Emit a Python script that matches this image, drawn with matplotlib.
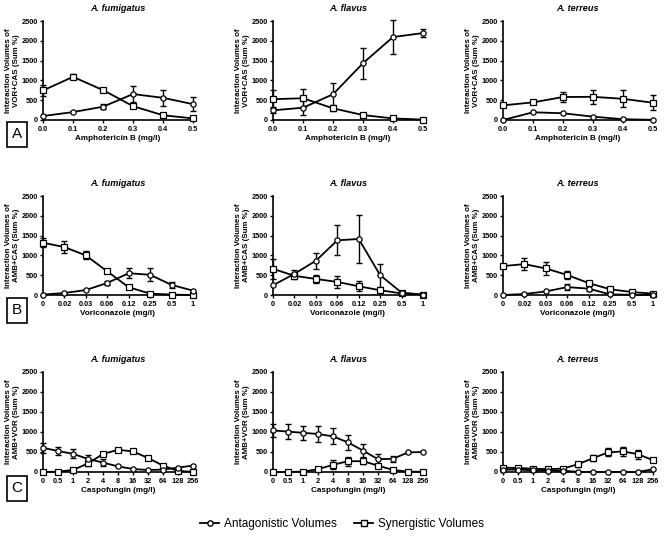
import numpy as np
import matplotlib
matplotlib.use("Agg")
import matplotlib.pyplot as plt
from matplotlib.lines import Line2D
from matplotlib.patches import Rectangle

plt.rcParams['font.family'] = ['Liberation Sans', 'DejaVu Sans']

nan = np.nan

titles = ["A. fumigatus", "A. flavus", "A. terreus"]
row_letters = ["A", "B", "C"]
row_ylabels = ["Interaction Volumes of\nVOR+CAS (Sum %)",
               "Interaction Volumes of\nAMB+CAS (Sum %)",
               "Interaction Volumes of\nAMB+VOR (Sum %)"]
row_xlabels = ["Amphotericin B (mg/l)", "Voriconazole (mg/l)", "Caspofungin (mg/l)"]

amb_conc = [0.0, 0.1, 0.2, 0.3, 0.4, 0.5]
amb_ticks = ["0.0", "0.1", "0.2", "0.3", "0.4", "0.5"]
vor_ticks = ["0", "0.02", "0.03", "0.06", "0.12", "0.25", "0.5", "1"]
cas_ticks = ["0", "0.5", "1", "2", "4", "8", "16", "32", "64", "128", "256"]
y_ticks = [0, 500, 1000, 1500, 2000, 2500]

# Row A: VOR+CAS vs Amphotericin B
A_fum_ant = [100, 200, 335, 655, 560, 400]
A_fum_ant_err = [nan, nan, 60, 200, 210, 170]
A_fum_syn = [745, 1090, 755, 350, 120, 40]
A_fum_syn_err = [130, 60, 30, 40, nan, nan]
A_fla_ant = [245, 310, 650, 1435, 2095, 2195]
A_fla_ant_err = [80, 190, 290, 390, 420, 110]
A_fla_syn = [525, 550, 295, 125, 40, 10]
A_fla_syn_err = [230, 230, 80, nan, nan, nan]
A_ter_ant = [0, 195, 170, 85, 20, 5]
A_ter_ant_err = [nan, nan, nan, nan, nan, nan]
A_ter_syn = [370, 445, 580, 585, 535, 435]
A_ter_syn_err = [nan, nan, 115, 185, 210, 190]

# Row B: AMB+CAS vs Voriconazole
B_fum_ant = [10, 50, 125, 305, 550, 510, 255, 110]
B_fum_ant_err = [nan, nan, nan, 40, 130, 160, 80, nan]
B_fum_syn = [1320, 1210, 1000, 595, 195, 35, 10, 0]
B_fum_syn_err = [120, 160, 100, 30, nan, nan, nan, nan]
B_fla_ant = [245, 535, 865, 1380, 1415, 500, 60, 10]
B_fla_ant_err = [nan, 90, 200, 380, 600, 290, nan, nan]
B_fla_syn = [660, 485, 405, 330, 220, 120, 40, 10]
B_fla_syn_err = [260, 80, 110, 160, 130, 60, nan, nan]
B_ter_ant = [0, 25, 90, 200, 160, 15, 5, 0]
B_ter_ant_err = [nan, nan, nan, 80, 60, nan, nan, nan]
B_ter_syn = [730, 780, 670, 505, 300, 145, 75, 35]
B_ter_syn_err = [nan, 150, 160, 110, 40, nan, nan, nan]

# Row C: AMB+VOR vs Caspofungin
C_fum_ant = [605, 525, 455, 325, 235, 140, 75, 50, 60, 110, 160]
C_fum_ant_err = [130, 110, 110, 100, 90, nan, nan, nan, nan, nan, nan]
C_fum_syn = [0, 10, 50, 215, 450, 555, 515, 350, 160, 25, 5]
C_fum_syn_err = [nan, nan, nan, 70, nan, 30, nan, nan, nan, nan, nan]
C_fla_ant = [1040, 1010, 980, 950, 890, 740, 535, 320, 330, 490, 500]
C_fla_ant_err = [170, 180, 180, 200, 200, 180, 170, 130, 80, nan, nan]
C_fla_syn = [0, 0, 10, 70, 180, 270, 270, 160, 50, 10, 5]
C_fla_syn_err = [nan, nan, nan, nan, 110, 110, 80, 40, nan, nan, nan]
C_ter_ant = [60, 60, 45, 35, 30, 5, 0, 0, 0, 0, 70]
C_ter_ant_err = [nan] * 11
C_ter_syn = [110, 100, 85, 70, 85, 195, 345, 490, 515, 445, 295]
C_ter_syn_err = [nan, nan, nan, nan, nan, 60, 80, 100, 120, 110, 50]

rows = [
    [(A_fum_ant, A_fum_ant_err, A_fum_syn, A_fum_syn_err),
     (A_fla_ant, A_fla_ant_err, A_fla_syn, A_fla_syn_err),
     (A_ter_ant, A_ter_ant_err, A_ter_syn, A_ter_syn_err)],
    [(B_fum_ant, B_fum_ant_err, B_fum_syn, B_fum_syn_err),
     (B_fla_ant, B_fla_ant_err, B_fla_syn, B_fla_syn_err),
     (B_ter_ant, B_ter_ant_err, B_ter_syn, B_ter_syn_err)],
    [(C_fum_ant, C_fum_ant_err, C_fum_syn, C_fum_syn_err),
     (C_fla_ant, C_fla_ant_err, C_fla_syn, C_fla_syn_err),
     (C_ter_ant, C_ter_ant_err, C_ter_syn, C_ter_syn_err)],
]

W, H = 664, 537
fig = plt.figure(figsize=(W / 100, H / 100), dpi=100)

col_left = [43, 273, 503]
ax_w = 150
row_top = [21, 196, 372]
row_bot = [120, 295, 472]


def draw_series(ax, x, y, err, marker):
    e = np.array(err, dtype=float)
    eb = ax.errorbar(x, y, yerr=e, fmt='none', ecolor='black', elinewidth=1.0,
                     capsize=2.3, capthick=1.0, zorder=2)
    for art in eb.lines[1] + eb.lines[2]:
        art.set_clip_on(False)
    ax.plot(x, y, '-', color='black', lw=1.3, marker=marker, ms=3.8,
            mfc='white', mec='black', mew=0.9, zorder=3, clip_on=False)


for r in range(3):
    for c in range(3):
        left = col_left[c] / W
        bottom = 1 - row_bot[r] / H
        height = (row_bot[r] - row_top[r]) / H
        ax = fig.add_axes([left, bottom, ax_w / W, height])
        ant, ant_err, syn, syn_err = rows[r][c]
        if r == 0:
            x = amb_conc
            ax.set_xlim(0, 0.5)
            ax.set_xticks(amb_conc)
            ax.set_xticklabels(amb_ticks)
        elif r == 1:
            x = np.arange(len(vor_ticks))
            ax.set_xlim(0, len(vor_ticks) - 1)
            ax.set_xticks(x)
            ax.set_xticklabels(vor_ticks)
        else:
            x = np.arange(len(cas_ticks))
            ax.set_xlim(0, len(cas_ticks) - 1)
            ax.set_xticks(x)
            ax.set_xticklabels(cas_ticks)
        draw_series(ax, x, syn, syn_err, 's')
        draw_series(ax, x, ant, ant_err, 'o')
        ax.set_ylim(0, 2500)
        ax.set_yticks(y_ticks)
        for s in ['top', 'right']:
            ax.spines[s].set_visible(False)
        for s in ['left', 'bottom']:
            ax.spines[s].set_linewidth(1.2)
        ax.tick_params(axis='both', direction='out', length=2.5, width=1.0,
                       labelsize=5.3, pad=1.5)
        for lab in ax.get_xticklabels() + ax.get_yticklabels():
            lab.set_fontweight('bold')
        ax.set_xlabel(row_xlabels[r], fontsize=5.9, fontweight='bold', labelpad=1.5)
        ax.set_ylabel(row_ylabels[r], fontsize=5.7, fontweight='bold', labelpad=0.8,
                      linespacing=1.3)
        ax.set_title(titles[c], fontsize=6.6, fontweight='bold', style='italic', pad=7)

    # panel letter box
    by0 = [122, 298, 476][r]
    fig.patches.append(Rectangle((7 / W, 1 - (by0 + 25) / H), 20 / W, 25 / H,
                                 transform=fig.transFigure, fill=False,
                                 edgecolor='black', lw=1.2))
    fig.text(17 / W, 1 - (by0 + 12.5) / H, row_letters[r], ha='center', va='center',
             fontsize=11)

handles = [
    Line2D([], [], color='black', lw=1.3, marker='o', ms=3.8, mfc='white', mec='black'),
    Line2D([], [], color='black', lw=1.3, marker='s', ms=3.8, mfc='white', mec='black'),
]
fig.legend(handles, ["Antagonistic Volumes", "Synergistic Volumes"], loc='center',
           bbox_to_anchor=(342 / W, 1 - 524 / H), ncol=2, frameon=False,
           fontsize=8.5, handlelength=1.6, handletextpad=0.4, columnspacing=1.5)

fig.savefig("out.png", dpi=100)
